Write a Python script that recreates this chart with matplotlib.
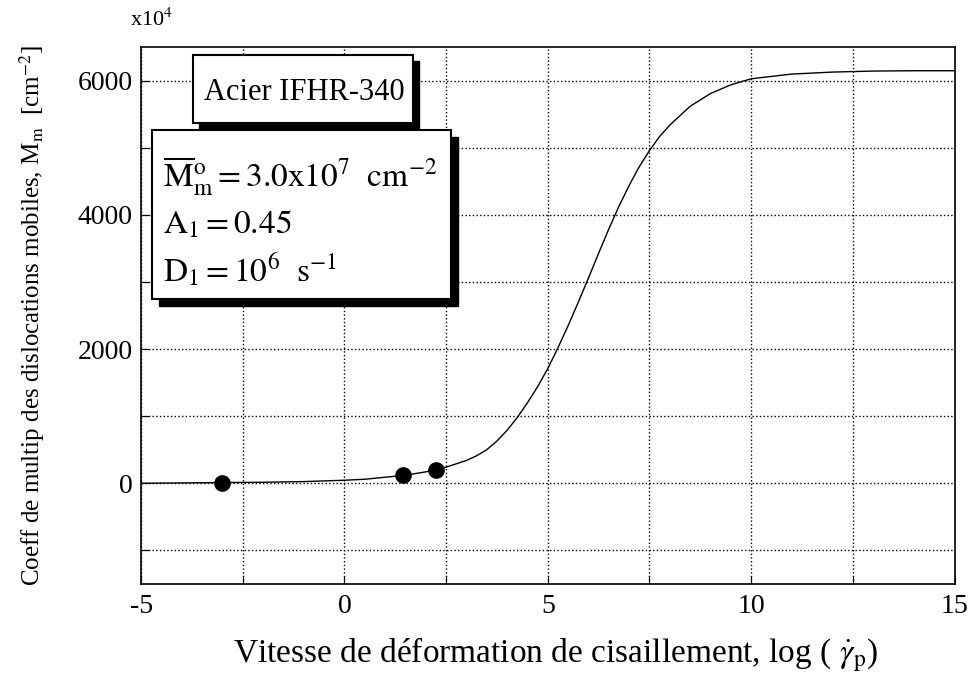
import matplotlib
matplotlib.use('Agg')
import matplotlib.pyplot as plt
from matplotlib.patches import Rectangle
import numpy as np

plt.rcParams['font.family'] = ['Liberation Serif', 'DejaVu Serif']
plt.rcParams['mathtext.fontset'] = 'stix'

# curve
curve_x = [-5, -4, -3, -2, -1, 0, 0.5, 1, 1.5, 2, 2.5, 3, 3.25, 3.5, 3.75, 4, 4.25,
           4.5, 4.75, 5, 5.25, 5.5, 5.75, 6, 6.25, 6.5, 6.75, 7, 7.25, 7.5, 7.75,
           8, 8.5, 9, 9.5, 10, 11, 12, 13, 14, 15]
curve_y = [0, 5, 10, 15, 25, 45, 60, 90, 120, 170, 240, 340, 410, 500, 630, 790, 980,
           1200, 1440, 1710, 2020, 2350, 2700, 3060, 3430, 3790, 4130, 4440, 4720, 4960, 5170,
           5340, 5620, 5810, 5940, 6030, 6100, 6130, 6145, 6150, 6150]

# measured points
pts_x = [-3, 1.45, 2.25]
pts_y = [10, 125, 200]

xticks = [-5, -2.5, 0, 2.5, 5, 7.5, 10, 12.5, 15]
xlabels = ['-5', '', '0', '', '5', '', '10', '', '15']
yticks = [-1000, 0, 1000, 2000, 3000, 4000, 5000, 6000]
ylabels = ['', '0', '', '2000', '', '4000', '', '6000']

fig = plt.figure(figsize=(9.73, 6.75), dpi=100)
ax = fig.add_axes([0.145, 0.135, 0.836, 0.795])

ax.plot(curve_x, curve_y, color='black', lw=1.0)
ax.plot(pts_x, pts_y, 'o', color='black', ms=11)

ax.set_xlim(-5, 15)
ax.set_ylim(-1500, 6500)
ax.set_xticks(xticks)
ax.set_xticklabels(xlabels)
ax.set_yticks(yticks)
ax.set_yticklabels(ylabels)
ax.tick_params(direction='in', length=6, labelsize=20, width=0.8)
ax.tick_params(axis='x', pad=7)
ax.tick_params(axis='y', pad=6)
ax.grid(True, linestyle=':', color='black', lw=1.0)
for s in ax.spines.values():
    s.set_linewidth(1.2)

fig.text(556 / 973, 1 - 662 / 675,
         r'Vitesse de déformation de cisaillement, log ( $\dot{\gamma}_{\mathrm{p}}$)',
         fontsize=24, ha='center', va='baseline')
ax.set_ylabel(r'Coeff de multip des dislocations mobiles, M$_{\mathrm{m}}$  [cm$^{-2}$]',
              fontsize=18, labelpad=22)
fig.text(130 / 973, 1 - 20 / 675, r'x10$^4$', fontsize=16, va='center', ha='left')


def shadow_box(x0, y0, x1, y1, off):
    # pixel coords from top-left -> figure fraction
    W, H = 973.0, 675.0
    sh = Rectangle(((x0 + off) / W, 1 - (y1 + off) / H), (x1 - x0) / W, (y1 - y0) / H,
                   transform=fig.transFigure, facecolor='black', edgecolor='black', zorder=5)
    bx = Rectangle((x0 / W, 1 - y1 / H), (x1 - x0) / W, (y1 - y0) / H,
                   transform=fig.transFigure, facecolor='white', edgecolor='black',
                   lw=1.5, zorder=6)
    fig.add_artist(sh)
    fig.add_artist(bx)


shadow_box(152, 130, 451, 299, 7)
shadow_box(193, 55, 413, 123, 6)

fig.text(304 / 973, 1 - 92 / 675, 'Acier IFHR-340', fontsize=22, ha='center', va='center', zorder=7)
fig.text(163 / 973, 1 - 176 / 675,
         r'$\overline{\mathrm{M}}^{\mathrm{o}}_{\mathrm{m}}=3.0\mathrm{x}10^{7}\ \ \mathrm{cm}^{-2}$',
         fontsize=24, ha='left', va='center', zorder=7)
fig.text(163 / 973, 1 - 225 / 675, r'$\mathrm{A}_{1}=0.45$',
         fontsize=24, ha='left', va='center', zorder=7)
fig.text(163 / 973, 1 - 270 / 675, r'$\mathrm{D}_{1}=10^{6}\ \ \mathrm{s}^{-1}$',
         fontsize=24, ha='left', va='center', zorder=7)

fig.savefig('out.png', dpi=100)
